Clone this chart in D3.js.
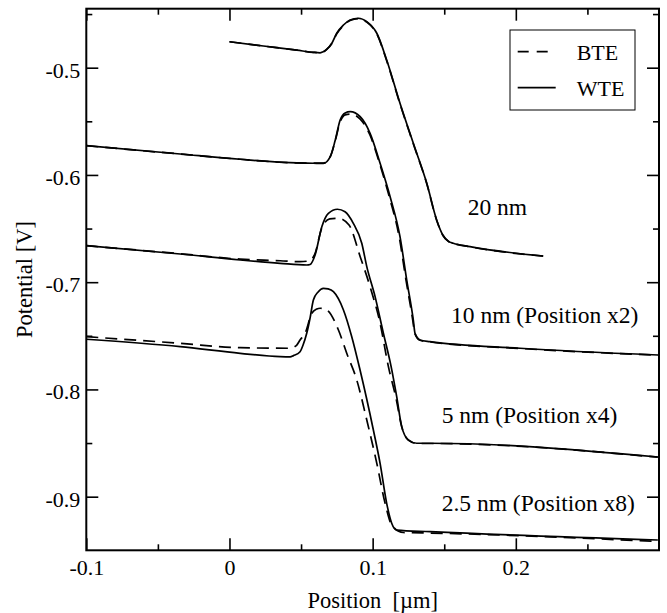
<!DOCTYPE html>
<html>
<head>
<meta charset="utf-8">
<script src="https://cdn.jsdelivr.net/npm/d3@7"></script>
<style>
  html, body { margin: 0; padding: 0; background: #fff; }
  svg { display: block; }
  text { font-family: "Liberation Serif", "Times New Roman", serif; fill: #000; }
</style>
</head>
<body>
<svg id="chart" width="667" height="613"></svg>
<script>
// ---------------- data ----------------
const xMajorTicks = [-0.1, 0, 0.1, 0.2];
const xMinorTicks = [-0.05, 0.05, 0.15, 0.25];
const yMajorTicks = [-0.5, -0.6, -0.7, -0.8, -0.9];
const yMinorTicks = [-0.45, -0.55, -0.65, -0.75, -0.85];

const seriesNames = ["BTE", "WTE"];
const curveLabels = ["20 nm", "10 nm (Position x2)", "5 nm (Position x4)", "2.5 nm (Position x8)"];

// 20 nm
const wte20 = [[0.000,-0.4758],[0.0237,-0.4798],[0.047,-0.4836],[0.0586,-0.4857],[0.0633,-0.4861],
  [0.068,-0.4828],[0.0715,-0.4772],[0.0749,-0.4679],[0.0796,-0.4602],[0.0842,-0.4555],[0.090,-0.4539],
  [0.0959,-0.4571],[0.1029,-0.4679],[0.1098,-0.4928],[0.1191,-0.5332],[0.1284,-0.5705],[0.1378,-0.6078],
  [0.1447,-0.6420],[0.1490,-0.6560],[0.1530,-0.6620],[0.1563,-0.6637],[0.168,-0.6669],[0.2191,-0.6756]];
const bte20 = [[0.000,-0.4758],[0.0237,-0.4798],[0.047,-0.4836],[0.0586,-0.4857],[0.0633,-0.4861],
  [0.068,-0.4830],[0.0715,-0.4775],[0.0749,-0.4685],[0.0796,-0.4608],[0.0842,-0.4560],[0.090,-0.4543],
  [0.0959,-0.4575],[0.1029,-0.4685],[0.1098,-0.4935],[0.1191,-0.5338],[0.1284,-0.5710],[0.1378,-0.6082],
  [0.1447,-0.6422],[0.1490,-0.6562],[0.1530,-0.6621],[0.1563,-0.6638],[0.168,-0.6670],[0.2191,-0.6757]];

// 10 nm (Position x2)
const wte10 = [[-0.1,-0.5727],[-0.0344,-0.5805],[0.0075,-0.5854],[0.0424,-0.5886],[0.0586,-0.5891],
  [0.0656,-0.5893],[0.0704,-0.5830],[0.0739,-0.5674],[0.0773,-0.5488],[0.0808,-0.5422],[0.0843,-0.5410],
  [0.0913,-0.5457],[0.0982,-0.5612],[0.1052,-0.5891],[0.1122,-0.6203],[0.1191,-0.6576],[0.1238,-0.6980],
  [0.1284,-0.7353],[0.1296,-0.7477],[0.1331,-0.7539],[0.140,-0.7555],[0.2029,-0.7616],[0.2994,-0.7679]];
const bte10 = [[-0.1,-0.5727],[-0.0344,-0.5805],[0.0075,-0.5854],[0.0424,-0.5886],[0.0586,-0.5890],
  [0.0656,-0.5890],[0.0704,-0.5828],[0.0739,-0.5680],[0.0773,-0.5505],[0.0808,-0.5440],[0.0843,-0.5432],
  [0.0913,-0.5480],[0.0982,-0.5630],[0.1048,-0.5891],[0.1116,-0.6203],[0.1185,-0.6576],[0.1233,-0.6980],
  [0.1280,-0.7353],[0.1294,-0.7477],[0.1331,-0.7541],[0.140,-0.7557],[0.2029,-0.7618],[0.2994,-0.7681]];

// 5 nm (Position x4)
const wte5 = [[-0.1,-0.6660],[-0.0344,-0.6737],[0.0075,-0.6793],[0.0354,-0.6824],[0.054,-0.6840],
  [0.0563,-0.6835],[0.0598,-0.6746],[0.0645,-0.6483],[0.0691,-0.6358],[0.0754,-0.6320],[0.0807,-0.6343],
  [0.0865,-0.6451],[0.0924,-0.6637],[0.0959,-0.6855],[0.1017,-0.7135],[0.1075,-0.7476],[0.1128,-0.7781],
  [0.1168,-0.8068],[0.1203,-0.8347],[0.1249,-0.8471],[0.1308,-0.8502],[0.1401,-0.8502],[0.2992,-0.8630]];
const bte5 = [[-0.1,-0.6660],[-0.0344,-0.6735],[0.0075,-0.6785],[0.0354,-0.6800],[0.0493,-0.6809],
  [0.0560,-0.6800],[0.0598,-0.6730],[0.0645,-0.6495],[0.0700,-0.6410],[0.0760,-0.6404],[0.0835,-0.6467],
  [0.0913,-0.6762],[0.0982,-0.7042],[0.1052,-0.7383],[0.1110,-0.7788],[0.1163,-0.8080],[0.1203,-0.8347],
  [0.1249,-0.8473],[0.1308,-0.8504],[0.1401,-0.8504],[0.2992,-0.8632]];

// 2.5 nm (Position x8)
const wte25 = [[-0.1,-0.7532],[-0.0344,-0.7601],[0.0075,-0.7663],[0.0354,-0.7695],[0.0424,-0.7697],
  [0.0447,-0.7685],[0.0493,-0.7648],[0.0514,-0.7586],[0.054,-0.7474],[0.0563,-0.7334],[0.0586,-0.7166],
  [0.0619,-0.7091],[0.0656,-0.7057],[0.0689,-0.7063],[0.0726,-0.7089],[0.0796,-0.7259],[0.0854,-0.7508],
  [0.0912,-0.7819],[0.1005,-0.8378],[0.1052,-0.8689],[0.1098,-0.9062],[0.1133,-0.9248],[0.1168,-0.9311],
  [0.1401,-0.9326],[0.2992,-0.9404]];
const bte25 = [[-0.1,-0.7508],[-0.0344,-0.7570],[0.0075,-0.7611],[0.0424,-0.7616],[0.047,-0.7586],
  [0.0493,-0.7539],[0.0528,-0.7477],[0.0575,-0.7290],[0.061,-0.7250],[0.0633,-0.7243],[0.068,-0.7259],
  [0.0761,-0.7446],[0.0819,-0.7663],[0.0889,-0.7912],[0.0959,-0.8285],[0.1029,-0.8689],[0.1087,-0.9062],
  [0.1133,-0.9264],[0.1214,-0.9334],[0.1401,-0.9339],[0.2992,-0.9418]];

const curves = [
  {name: "BTE", data: bte20}, {name: "WTE", data: wte20},
  {name: "BTE", data: bte10}, {name: "WTE", data: wte10},
  {name: "BTE", data: bte5},  {name: "WTE", data: wte5},
  {name: "BTE", data: bte25}, {name: "WTE", data: wte25}
];

// ---------------- layout ----------------
const svg = d3.select("#chart");
const L = 86.3, R = 659, T = 8.7, B = 550.3;
const x = d3.scaleLinear().domain([-0.1, 0.3]).range([L, R]);
const y = d3.scaleLinear().domain([-0.95, -0.445]).range([B, T]);
const fmt = d => (Math.abs(d) < 1e-9 ? "0" : String(+d.toFixed(2)));

const dashPattern = "12,7";

// curves
const line = d3.line().x(d => x(d[0])).y(d => y(d[1])).curve(d3.curveMonotoneX);
svg.append("g").selectAll("path").data(curves).join("path")
  .attr("d", d => line(d.data))
  .attr("fill", "none")
  .attr("stroke", "#000")
  .attr("stroke-width", 1.7)
  .attr("stroke-dasharray", d => d.name === "BTE" ? dashPattern : null);

// axes (ticks point inward)
function styleAxis(g) {
  g.select(".domain").remove();
  g.selectAll(".tick line").attr("stroke", "#000").attr("stroke-width", 1.6);
}
svg.append("g").attr("transform", `translate(0,${B})`)
  .call(d3.axisBottom(x).tickValues(xMajorTicks).tickSize(-12).tickPadding(0).tickFormat(fmt))
  .call(styleAxis)
  .call(g => g.selectAll(".tick text").attr("dy", null).attr("y", 25).style("font-size", "22px")
      .attr("font-family", null));
svg.append("g").attr("transform", `translate(0,${B})`)
  .call(d3.axisBottom(x).tickValues(xMinorTicks).tickSize(-6).tickFormat(""))
  .call(styleAxis);
svg.append("g").attr("transform", `translate(0,${T})`)
  .call(d3.axisTop(x).tickValues(xMajorTicks).tickSize(-12).tickFormat(""))
  .call(styleAxis);
svg.append("g").attr("transform", `translate(0,${T})`)
  .call(d3.axisTop(x).tickValues(xMinorTicks).tickSize(-6).tickFormat(""))
  .call(styleAxis);

svg.append("g").attr("transform", `translate(${L},0)`)
  .call(d3.axisLeft(y).tickValues(yMajorTicks).tickSize(-12).tickPadding(6).tickFormat(fmt))
  .call(styleAxis)
  .call(g => g.selectAll(".tick text").attr("dy", null).attr("x", -6).attr("y", 9.5)
      .style("font-size", "22px").attr("font-family", null));
svg.append("g").attr("transform", `translate(${L},0)`)
  .call(d3.axisLeft(y).tickValues(yMinorTicks).tickSize(-6).tickFormat(""))
  .call(styleAxis);
svg.append("g").attr("transform", `translate(${R},0)`)
  .call(d3.axisRight(y).tickValues(yMajorTicks).tickSize(-12).tickFormat(""))
  .call(styleAxis);
svg.append("g").attr("transform", `translate(${R},0)`)
  .call(d3.axisRight(y).tickValues(yMinorTicks).tickSize(-6).tickFormat(""))
  .call(styleAxis);

// frame
svg.append("rect").attr("x", L).attr("y", T).attr("width", R - L).attr("height", B - T)
  .attr("fill", "none").attr("stroke", "#000").attr("stroke-width", 2);

// axis titles
svg.append("text").attr("x", (L + R) / 2).attr("y", 607.5).attr("text-anchor", "middle")
  .style("font-size", "22.5px").text("Position  [\u00b5m]").attr("xml:space", "preserve")
  .style("white-space", "pre");
svg.append("text").attr("transform", `translate(32,${(T + B) / 2}) rotate(-90)`)
  .attr("text-anchor", "middle").style("font-size", "22.5px").text("Potential [V]");

// curve labels
const labelPos = [[467.7, 215], [451, 322.7], [441.7, 423.3], [441.7, 510.7]];
svg.append("g").selectAll("text").data(curveLabels).join("text")
  .attr("x", (d, i) => labelPos[i][0]).attr("y", (d, i) => labelPos[i][1])
  .style("font-size", "23.5px").text(d => d);

// legend
const lg = svg.append("g");
lg.append("rect").attr("x", 510).attr("y", 30).attr("width", 125).attr("height", 80)
  .attr("fill", "#fff").attr("stroke", "#000").attr("stroke-width", 1);
const legendY = [51.7, 87.7];
seriesNames.forEach((s, i) => {
  lg.append("line").attr("x1", 517.7).attr("x2", 555.7).attr("y1", legendY[i]).attr("y2", legendY[i])
    .attr("stroke", "#000").attr("stroke-width", 1.7)
    .attr("stroke-dasharray", s === "BTE" ? "11,8" : null);
  lg.append("text").attr("x", 576.7).attr("y", legendY[i] + 8).style("font-size", "22px").text(s);
});
</script>
</body>
</html>
